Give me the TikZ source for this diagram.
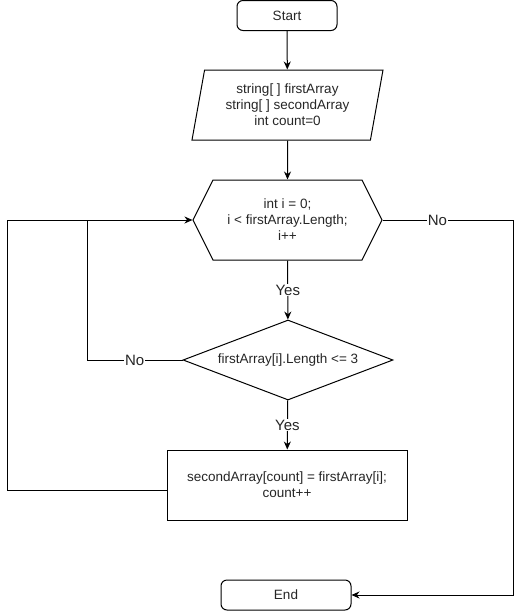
\documentclass[tikz,border=0pt]{standalone}
\usepackage{fontspec}
\setmainfont{Liberation Sans}
\usepackage{xcolor}
\usetikzlibrary{calc}
\usetikzlibrary{shapes.geometric}
\usetikzlibrary{shapes.symbols}
\usetikzlibrary{arrows.meta}
\usetikzlibrary{positioning}

\tikzset{
	flowBase/.style = {draw, line width=1pt, inner sep=0pt, align=center, text=black!85, font=\fontsize{13.5}{16}\selectfont},
	startStop/.style = {flowBase, rectangle, rounded corners=6pt, minimum width=100pt, minimum height=30pt},
	ioBox/.style = {flowBase, trapezium, trapezium left angle=73.3, trapezium right angle=106.7, trapezium stretches body, minimum width=191pt, minimum height=70pt},
	loopBox/.style = {flowBase, signal, signal to=west and east, signal pointer angle=126.87, minimum width=189pt, minimum height=80pt},
	decisionBox/.style = {flowBase, diamond, shape aspect=2.625, minimum width=210pt, minimum height=80pt},
	processBox/.style = {flowBase, rectangle, minimum width=240pt, minimum height=70pt},
	arrowLine/.style = {line width=1pt, -{Stealth[length=8pt,width=7pt]}},
	plainLine/.style = {line width=1pt},
	edgeLabel/.style = {fill=white, inner sep=1pt, text=black!85, font=\fontsize{15}{16}\selectfont}
}

\begin{document}
\begin{tikzpicture}[x=1pt, y=-1pt] % flowchart
		\newcommand{\railLeft}{7}
		\newcommand{\railMid}{87}
		\newcommand{\railRight}{513}
		
		\useasboundingbox (0,0) rectangle (526,611);		% page
		
		% blocks
		\node[startStop] (start) at (287,15.5) {Start};
		\node[ioBox] (input) at (287.5,105) {string[ ] firstArray\\string[ ] secondArray\\int count=0};
		\node[loopBox] (loop) at (287.5,220) {int i = 0;\\i < firstArray.Length;\\i++};
		\node[decisionBox] (check) at (288,360) {firstArray[i].Length <= 3};
		\node[processBox] (work) at (287,485) {secondArray[count] = firstArray[i];\\count++};
		\node[startStop, minimum width=130pt] (stop) at (286,595) {End};
		
		% rails
		\coordinate (leftRail) at (\railLeft,0);
		\coordinate (midRail) at (\railMid,0);
		\coordinate (rightRail) at (\railRight,0);
		
		% straight connectors
		\draw[arrowLine] (start) -- (input);
		\draw[arrowLine] (input) -- (loop);
		\draw[arrowLine] (loop) -- node[edgeLabel] {Yes} (check);
		\draw[arrowLine] (check) -- node[edgeLabel] {Yes} (work);
		
		% loop back
		\draw[arrowLine] ([yshift=-5pt]work.west) -- ([yshift=-5pt]work.west -| leftRail) |- (loop.west);
		\draw[plainLine] (check.west) -- node[edgeLabel] {No} (check.west -| midRail) -- (loop.west -| midRail);
		
		% exit
		\draw[arrowLine] (loop.east) -- node[edgeLabel, pos=0.42] {No} (loop.east -| rightRail) |- (stop.east);
\end{tikzpicture}
\end{document}
